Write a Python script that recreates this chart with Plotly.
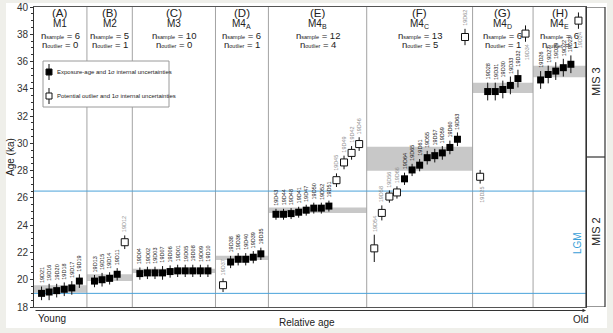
import plotly.graph_objects as go

# ---------------- data ----------------
section_letters = ["A", "B", "C", "D", "E", "F", "G", "H"]
moraines = ["M1", "M2", "M3", "M4<sub>A</sub>", "M4<sub>B</sub>",
            "M4<sub>C</sub>", "M4<sub>D</sub>", "M4<sub>E</sub>"]
n_sample = [6, 5, 10, 6, 12, 13, 6, 6]
n_outlier = [0, 1, 0, 1, 4, 5, 1, 1]
band_low = [19.05, 19.9, 20.5, 21.45, 24.9, 28.0, 33.7, 34.85]
band_high = [19.6, 20.4, 20.8, 21.75, 25.3, 29.75, 34.45, 35.7]

ids_A = ["19D21", "19D16", "19D20", "19D18", "19D17", "19D19"]
age_A = [19.0, 19.1, 19.2, 19.3, 19.4, 19.9]
err_A = [0.5, 0.6, 0.5, 0.5, 0.5, 0.5]
out_A = [0, 0, 0, 0, 0, 0]

ids_B = ["19D13", "19D15", "19D14", "19D11", "19D12"]
age_B = [19.9, 20.0, 20.1, 20.4, 22.75]
err_B = [0.45, 0.5, 0.45, 0.45, 0.5]
out_B = [0, 0, 0, 0, 1]

ids_C = ["19D04", "19D02", "19D03", "19D07", "19D06",
         "19D01", "19D05", "19D08", "19D09", "19D10"]
age_C = [20.45, 20.5, 20.5, 20.5, 20.6, 20.65, 20.65, 20.65, 20.65, 20.65]
err_C = [0.45, 0.45, 0.45, 0.5, 0.45, 0.45, 0.45, 0.45, 0.45, 0.45]
out_C = [0, 0, 0, 0, 0, 0, 0, 0, 0, 0]

ids_D = ["19D37", "19D38", "19D36", "19D40", "19D39", "19D35"]
age_D = [19.6, 21.3, 21.5, 21.5, 21.65, 21.9]
err_D = [0.5, 0.45, 0.45, 0.45, 0.45, 0.45]
out_D = [1, 0, 0, 0, 0, 0]

ids_E = ["19D43", "19D44", "19D48", "19D41", "19D47", "19D50",
         "19D52", "19D51", "19D45", "19D49", "19D42", "19D46"]
age_E = [24.8, 24.8, 24.85, 24.95, 25.1, 25.25, 25.25, 25.4,
         27.3, 28.6, 29.3, 29.95]
err_E = [0.4, 0.4, 0.4, 0.4, 0.4, 0.4, 0.4, 0.4, 0.5, 0.5, 0.5, 0.5]
out_E = [0, 0, 0, 0, 0, 0, 0, 0, 1, 1, 1, 1]

ids_F = ["19D54", "19D58", "19D56", "19D66", "19D64", "19D65", "19D61",
         "19D55", "19D57", "19D59", "19D60", "19D63", "19D62"]
age_F = [22.3, 24.9, 26.1, 26.4, 27.4, 28.05, 28.4, 28.95, 29.1, 29.3,
         29.7, 30.3, 37.8]
err_F = [1.0, 0.55, 0.45, 0.45, 0.45, 0.45, 0.45, 0.5, 0.5, 0.5, 0.5, 0.5, 0.6]
out_F = [1, 1, 1, 1, 0, 0, 0, 0, 0, 0, 0, 0, 1]

ids_G = ["19D25", "19D28", "19D31", "19D30", "19D33", "19D32", "19D34"]
age_G = [27.55, 33.8, 33.8, 33.95, 34.25, 34.75, 38.05]
err_G = [0.5, 0.65, 0.65, 0.65, 0.65, 0.65, 0.6]
out_G = [1, 0, 0, 0, 0, 0, 1]

ids_H = ["19D26", "19D27", "19D29", "19D22", "19D23", "19D24"]
age_H = [34.65, 35.05, 35.3, 35.55, 35.8, 39.0]
err_H = [0.65, 0.65, 0.65, 0.65, 0.65, 0.6]
out_H = [0, 0, 0, 0, 0, 1]

y_ticks = [18, 20, 22, 24, 26, 28, 30, 32, 34, 36, 38, 40]
lgm_start, lgm_end = 26.5, 19.0
mis_boundary = 29.0

sections = [
    (ids_A, age_A, err_A, out_A), (ids_B, age_B, err_B, out_B),
    (ids_C, age_C, err_C, out_C), (ids_D, age_D, err_D, out_D),
    (ids_E, age_E, err_E, out_E), (ids_F, age_F, err_F, out_F),
    (ids_G, age_G, err_G, out_G), (ids_H, age_H, err_H, out_H),
]

# sample labels drawn under the marker instead of above it
label_below = {"19D25", "19D34", "19D24"}

# ---------------- geometry helpers ----------------
W, H = 613, 333
ML, MR, MT, MB = 34, 27, 7, 26
PW, PH = W - ML - MR, H - MT - MB
FONT = "Liberation Sans, Arial, sans-serif"
TXT = "#222"


def fx(px):
    return (px - ML) / PW


def fy(py):
    return (H - MB - py) / PH


def note(px, py, text, size, color=TXT, angle=0, xanchor="center"):
    return dict(xref="paper", yref="paper", x=fx(px), y=fy(py), text=text,
                textangle=angle, showarrow=False, xanchor=xanchor,
                yanchor="middle",
                font=dict(size=size, color=color, family=FONT))


def sub(word, size=5.5):
    return f'<span style="font-size:{size}px">{word}</span>'


# relative-age slots: one empty slot between moraine groups
xs, ys, es, outs, names = [], [], [], [], []
bounds = []
count = 0
for k, (ids, ages, errs, outl) in enumerate(sections):
    first = count + k
    for j in range(len(ids)):
        xs.append(count + j + k)
        ys.append(ages[j])
        es.append(errs[j])
        outs.append(outl[j])
        names.append(ids[j])
    last = count + len(ids) - 1 + k
    bounds.append((first - 1, last + 1))
    count += len(ids)
x_min, x_max = bounds[0][0], bounds[-1][1]

fig = go.Figure()

idx_in = [i for i in range(len(xs)) if not outs[i]]
idx_out = [i for i in range(len(xs)) if outs[i]]

fig.add_trace(go.Scatter(
    x=[xs[i] for i in idx_out], y=[ys[i] for i in idx_out], mode="markers",
    marker=dict(symbol="square", size=7, color="white",
                line=dict(color="#111", width=1)),
    error_y=dict(type="data", array=[es[i] for i in idx_out],
                 color="#111", thickness=1, width=0),
    showlegend=False, hoverinfo="skip"))
fig.add_trace(go.Scatter(
    x=[xs[i] for i in idx_in], y=[ys[i] for i in idx_in], mode="markers",
    marker=dict(symbol="square", size=7, color="#000",
                line=dict(color="#000", width=0)),
    error_y=dict(type="data", array=[es[i] for i in idx_in],
                 color="#111", thickness=1, width=0),
    showlegend=False, hoverinfo="skip"))

shapes = []
annotations = []

# outer frame of the figure
shapes.append(dict(type="rect", xref="paper", yref="paper", layer="below",
                   x0=fx(6), x1=fx(607), y0=fy(328), y1=fy(3),
                   fillcolor="white", line=dict(width=0)))

# mean-age bands per moraine
for k, (b0, b1) in enumerate(bounds):
    shapes.append(dict(type="rect", xref="x", yref="y", layer="below",
                       x0=b0, x1=b1, y0=band_low[k], y1=band_high[k],
                       fillcolor="#c8c8c8", line=dict(width=0)))

# section dividers
for k in range(len(bounds) - 1):
    xb = bounds[k][1]
    shapes.append(dict(type="line", xref="x", yref="y", layer="below",
                       x0=xb, x1=xb, y0=18, y1=40,
                       line=dict(color="#a3a3a3", width=1)))

# LGM limits
for yv in (lgm_start, lgm_end):
    shapes.append(dict(type="line", xref="x", yref="y", layer="below",
                       x0=x_min, x1=x_max, y0=yv, y1=yv,
                       line=dict(color="#4aa3da", width=1)))

# MIS column to the right of the plot
shapes.append(dict(type="rect", xref="paper", yref="y",
                   x0=1, x1=fx(605), y0=18, y1=40,
                   line=dict(color="#333", width=1.2)))
shapes.append(dict(type="line", xref="paper", yref="y",
                   x0=1, x1=fx(605), y0=mis_boundary, y1=mis_boundary,
                   line=dict(color="#333", width=1.2)))
for label, lo, hi in (("MIS 3", mis_boundary, 40), ("MIS 2", 18, mis_boundary)):
    annotations.append(dict(xref="paper", yref="y", x=fx(596),
                            y=(lo + hi) / 2, text=label, textangle=-90,
                            showarrow=False, xanchor="center",
                            yanchor="middle",
                            font=dict(size=11, color=TXT, family=FONT)))
annotations.append(note(577, 243, "LGM", 10, color="#3a9fd8", angle=-90))

# section headers
for k, (b0, b1) in enumerate(bounds):
    xc = (b0 + b1) / 2
    hdr = [(f"({section_letters[k]})", 13.5, 11.5),
           (moraines[k], 24, 10),
           (f"n{sub('sample')} = {n_sample[k]}", 35, 9.5),
           (f"n{sub('outlier')} = {n_outlier[k]}", 44.5, 9.5)]
    for txt, py, fs in hdr:
        annotations.append(dict(xref="x", yref="paper", x=xc, y=fy(py),
                                text=txt, showarrow=False,
                                xanchor="center", yanchor="middle",
                                font=dict(size=fs, color=TXT, family=FONT)))

# sample labels along the error bars
for i in range(len(xs)):
    below = names[i] in label_below
    col = "#8f8f8f" if outs[i] else "#222"
    if below:
        annotations.append(dict(
            x=xs[i], y=ys[i] - es[i], text=names[i], textangle=-90,
            showarrow=False, yanchor="top", xanchor="center", yshift=-1,
            xshift=1, font=dict(size=5.5, color=col, family=FONT)))
    else:
        annotations.append(dict(
            x=xs[i], y=ys[i] + es[i], text=names[i], textangle=-90,
            showarrow=False, yanchor="bottom", xanchor="center", yshift=1,
            font=dict(size=5.5, color=col, family=FONT)))

# key box
shapes.append(dict(type="rect", xref="paper", yref="paper",
                   x0=fx(43), x1=fx(169), y0=fy(107), y1=fy(61),
                   fillcolor="white", line=dict(color="#9a9a9a", width=1)))
for py, filled in ((72, True), (96, False)):
    shapes.append(dict(type="line", xref="paper", yref="paper",
                       x0=fx(49), x1=fx(49), y0=fy(py + 8), y1=fy(py - 8),
                       line=dict(color="#111", width=1)))
    shapes.append(dict(type="rect", xref="paper", yref="paper",
                       x0=fx(46), x1=fx(52), y0=fy(py + 3), y1=fy(py - 3),
                       fillcolor="#000" if filled else "white",
                       line=dict(color="#111", width=1)))
annotations.append(note(55, 72, "Exposure-age and 1σ internal uncertainties",
                        6, xanchor="left"))
annotations.append(note(55, 96,
                        "Potential outlier and 1σ internal uncertainties",
                        6, xanchor="left"))

# relative age arrow
annotations.append(dict(xref="paper", yref="paper", x=1, y=fy(310.5),
                        ax=-PW, ay=0, text="", showarrow=True,
                        arrowhead=2, arrowsize=0.7, arrowwidth=1,
                        arrowcolor="#333"))
annotations.append(note(36, 318, "Young", 10, xanchor="left"))
annotations.append(note(581, 319, "Old", 10))
annotations.append(note(307, 323, "Relative age", 10))
annotations.append(note(10, 157, "Age (ka)", 10, angle=-90))

fig.update_layout(
    template="none",
    width=W, height=H,
    margin=dict(l=ML, r=MR, t=MT, b=MB),
    paper_bgcolor="#efefea", plot_bgcolor="white",
    shapes=shapes, annotations=annotations,
    xaxis=dict(range=[x_min, x_max], showgrid=False, zeroline=False,
               showticklabels=False, ticks="", showline=True,
               linecolor="#555", linewidth=1, mirror=True),
    yaxis=dict(range=[18, 40], tickvals=y_ticks, showgrid=False,
               zeroline=False, showline=True, linecolor="#333", linewidth=1,
               mirror=True, ticks="outside", ticklen=3, tickcolor="#333",
               tickfont=dict(size=10, color="#333", family=FONT),
               minor=dict(dtick=0.5, ticks="outside", ticklen=2,
                          tickcolor="#333", showgrid=False)),
)

fig.write_html("out.html")
